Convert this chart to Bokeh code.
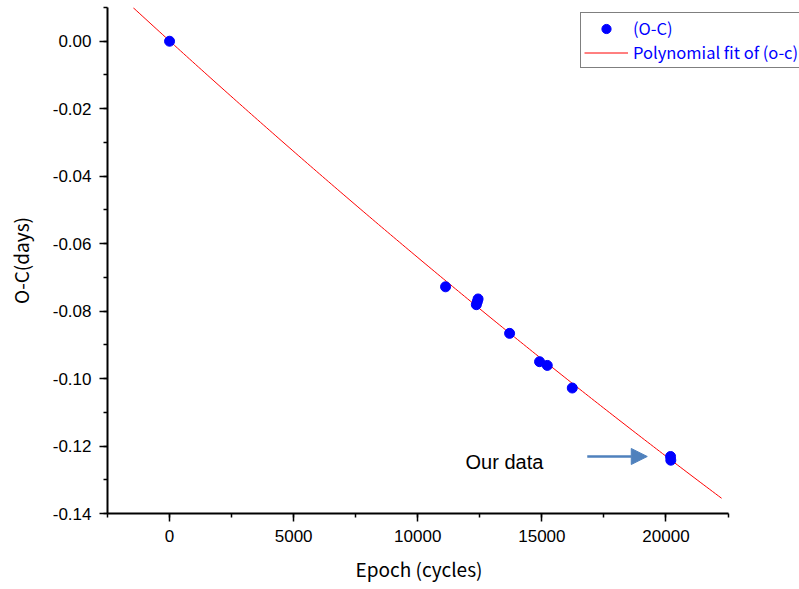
import numpy as np
from bokeh.plotting import figure
from bokeh.models import (Range1d, SingleIntervalTicker, Legend, LegendItem, Arrow,
                          NormalHead, Label, NumeralTickFormatter, Title)
from bokeh.embed import file_html
from bokeh.resources import INLINE

# ---- data ----
epoch = [0, 11120, 12430, 12400, 12360, 13700, 14907, 15218, 16225, 20185, 20195]
o_minus_c = [0.0, -0.0728, -0.0764, -0.0772, -0.0781, -0.0866, -0.0950, -0.0961, -0.1028, -0.1231, -0.1242]
fit_degree = 2
fit_range = [-1463, 22240]
x_axis_bounds = [-2500, 22500]
x_view_right = 25380   # frame continues past the axis end so the legend is not clipped
y_limits = [-0.14, 0.01]
x_label = "Epoch (cycles)"
y_label = "O-C(days)"
annotation_text = "Our data"
annotation_pos = [11926, -0.1247]
arrow_from = [16829, -0.1231]
arrow_to = [19247, -0.1231]

# polynomial fit of the data
coef = np.polyfit(epoch, o_minus_c, fit_degree)
fit_x = np.linspace(fit_range[0], fit_range[1], 200)
fit_y = np.polyval(coef, fit_x)

p = figure(width=799, height=589,
           x_range=Range1d(x_axis_bounds[0], x_view_right),
           y_range=Range1d(y_limits[0], y_limits[1] + 1e-9),
           min_border_left=107, min_border_right=0, min_border_top=7, min_border_bottom=76,
           output_backend="svg", toolbar_location=None)
p.grid.visible = False
p.outline_line_color = None
p.background_fill_color = "white"
p.border_fill_color = "white"

fit = p.line(fit_x, fit_y, line_color="red", line_width=1)
pts = p.scatter(epoch, o_minus_c, size=10, marker="circle", fill_color="#0000FF", line_color="#0000FF")

for ax in (p.xaxis[0], p.yaxis[0]):
    ax.axis_line_width = 2
    ax.axis_line_color = "black"
    ax.major_tick_line_width = 1.5
    ax.minor_tick_line_width = 1.5
    ax.major_tick_line_color = "black"
    ax.minor_tick_line_color = "black"
    ax.major_tick_in = 0
    ax.major_tick_out = 8
    ax.minor_tick_in = 0
    ax.minor_tick_out = 4
    ax.major_label_text_font = "Liberation Sans"
    ax.major_label_text_font_size = "17px"
    ax.major_label_text_color = "black"
    ax.major_label_standoff = 8
    ax.axis_label_text_font = "Noto Sans CJK JP"
    ax.axis_label_text_font_size = "19px"
    ax.axis_label_text_font_style = "normal"
    ax.axis_label_text_color = "black"

p.xaxis.bounds = (x_axis_bounds[0], x_axis_bounds[1])
p.xaxis.ticker = SingleIntervalTicker(interval=5000, num_minor_ticks=2)
p.yaxis.ticker = SingleIntervalTicker(interval=0.02, num_minor_ticks=2)
p.yaxis.formatter = NumeralTickFormatter(format="0.00")
p.yaxis.axis_label = y_label
p.yaxis.axis_label_standoff = 16

# x-axis title centred under the axis line (not under the wider frame)
p.add_layout(Title(text=x_label, align="left", offset=248, standoff=16,
                   text_font="Noto Sans CJK JP", text_font_size="19px",
                   text_font_style="normal", text_color="black"), "below")

legend = Legend(items=[LegendItem(label="(O-C)", renderers=[pts]),
                       LegendItem(label="Polynomial fit of (o-c)", renderers=[fit])],
                location=(473, 445), margin=0, padding=3, spacing=0,
                glyph_width=44, glyph_height=23, label_height=23, label_standoff=5,
                label_text_font="Noto Sans CJK JP", label_text_font_size="16.5px",
                label_text_color="#0000FF", border_line_color="black", border_line_width=1.5,
                background_fill_color="white", background_fill_alpha=1)
p.add_layout(legend, "center")

p.add_layout(Arrow(end=NormalHead(size=16, fill_color="#4F81BD", line_color="#4F81BD"),
                   x_start=arrow_from[0], y_start=arrow_from[1],
                   x_end=arrow_to[0], y_end=arrow_to[1],
                   line_color="#4F81BD", line_width=2.5))
p.add_layout(Label(x=annotation_pos[0], y=annotation_pos[1], text=annotation_text,
                   text_font="Liberation Sans", text_font_size="20px",
                   text_baseline="alphabetic", text_color="black"))

open("out.html", "w").write(file_html(p, INLINE))
